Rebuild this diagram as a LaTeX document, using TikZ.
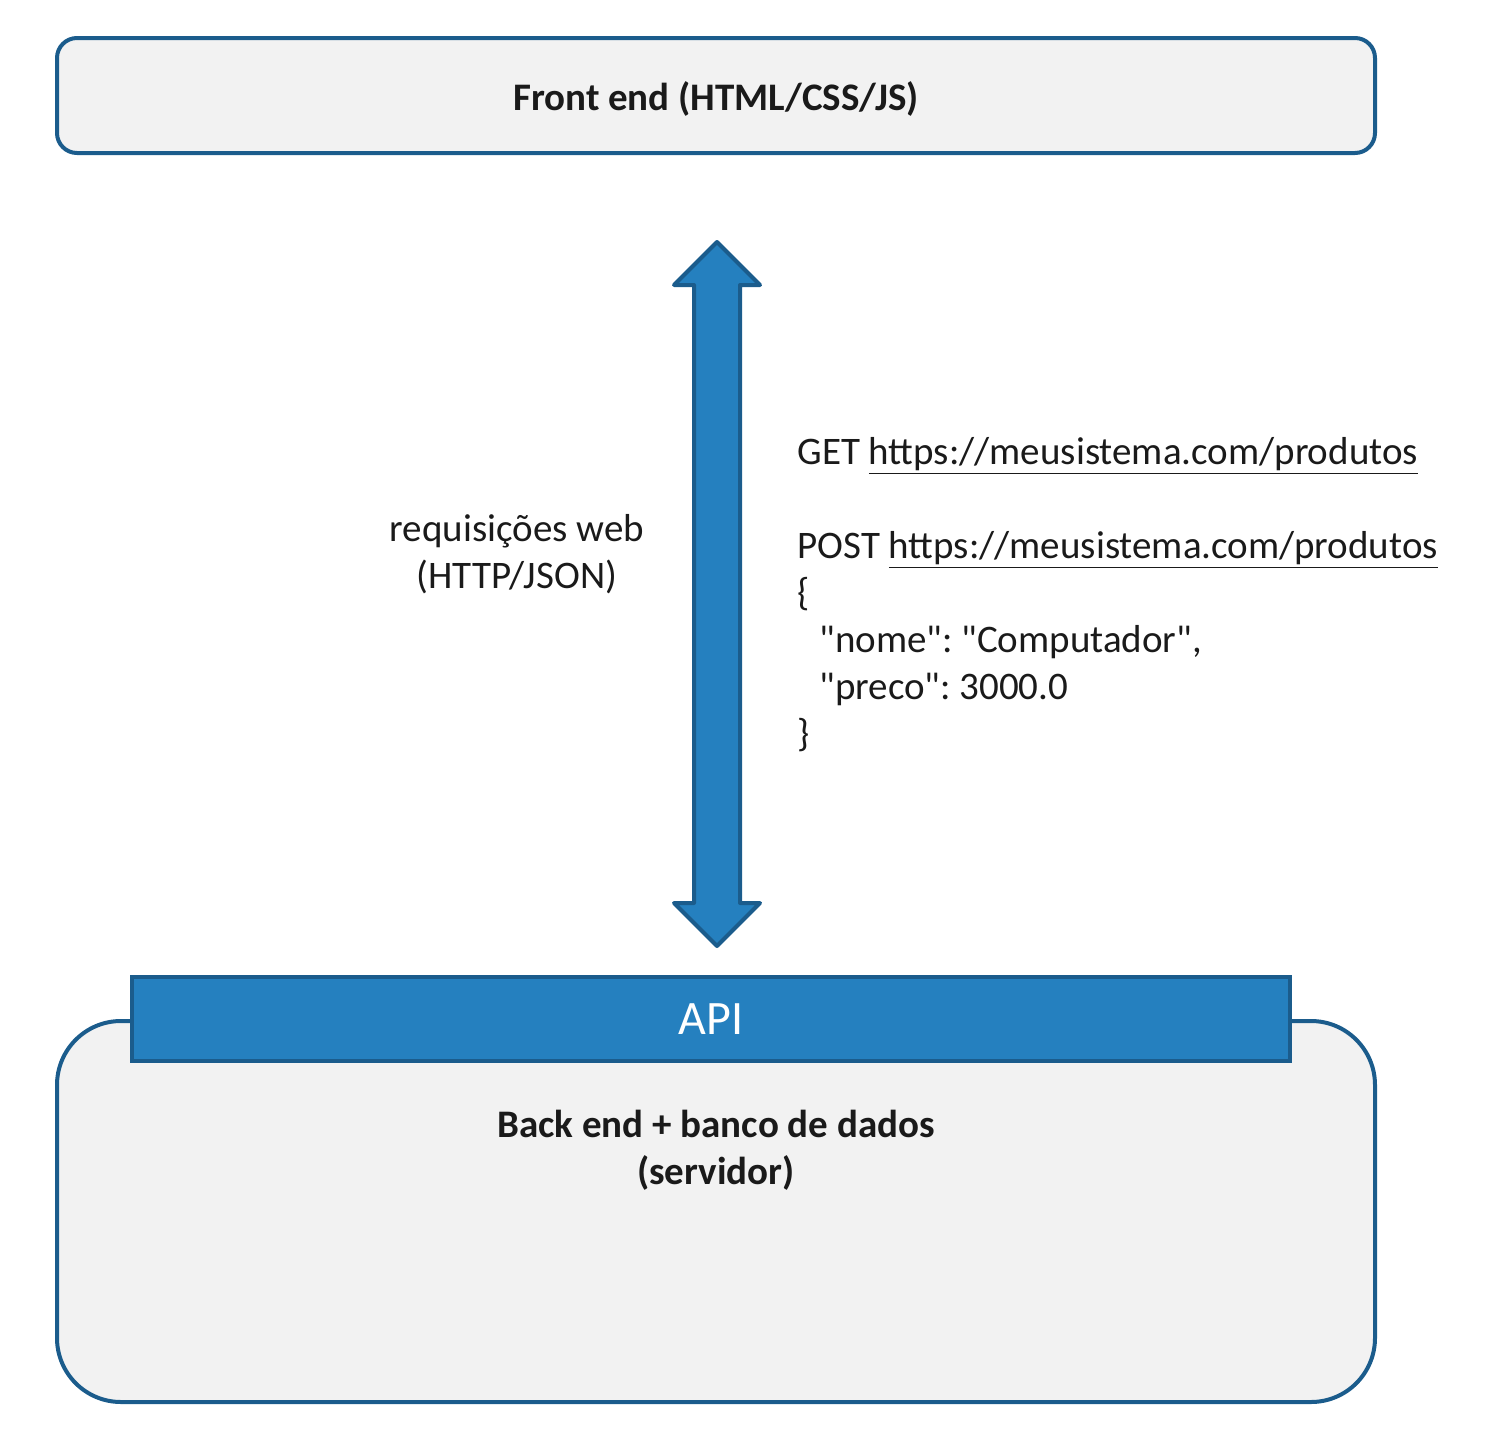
\documentclass[tikz,border=0pt]{standalone}
\usepackage{fontspec}
\setmainfont{Carlito}[Ligatures=TeXOff]
\definecolor{apiblue}{RGB}{37,128,191}
\definecolor{edgeblue}{RGB}{27,92,140}
\definecolor{boxfill}{RGB}{242,242,242}
\definecolor{txt}{RGB}{26,26,26}
\frenchspacing
\begin{document}
\begin{tikzpicture}[x=0.5pt,y=-0.5pt,
  panel/.style={draw=edgeblue, fill=boxfill, line width=2pt},
  apibar/.style={draw=edgeblue, fill=apiblue, line width=2pt},
  boldlabel/.style={text=txt, font=\bfseries\fontsize{19.5}{23.5}\selectfont, align=center},
  plainlabel/.style={text=txt, font=\fontsize{19.5}{23.5}\selectfont},
]
\useasboundingbox (0,0) rectangle (1500,1440);

% front end box
\node[panel, rounded corners=10pt, minimum width=659pt, minimum height=57.5pt, inner sep=0pt] (front) at (716,95.5) {};
\node[boldlabel] (fronttxt) at (716,99) {Front end (HTML/CSS/JS)};

% back end box
\node[panel, rounded corners=32pt, minimum width=659pt, minimum height=190.5pt, inner sep=0pt] (back) at (716,1211.5) {};
\node[boldlabel] (backtxt) at (716,1150) {Back end + banco de dados\\(servidor)};

% API bar
\node[apibar, minimum width=579pt, minimum height=42pt, inner sep=0pt,
      text=white, font=\fontsize{24}{28}\selectfont] (api) at (711,1019) {API};

% double arrow
\coordinate (ttip) at (717,242);
\coordinate (btip) at (717,946);
\draw[apibar, line join=round]
  (ttip) -- (760,285) -- (740,285) -- (740,903) -- (760,903) -- (btip)
  -- (674,903) -- (694,903) -- (694,285) -- (674,285) -- cycle;

% left label
\node[plainlabel, align=center] (req) at (517,554) {requisições web\\(HTTP/JSON)};

% right text
\node[plainlabel, align=left, anchor=north west, inner sep=0pt] (code) at (797,437)
{GET \underline{https://meusistema.com/produtos}\\[23.5pt]
POST \underline{https://meusistema.com/produtos}\\
\{\\
\hspace*{11pt}"nome": "Computador",\\
\hspace*{11pt}"preco": 3000.0\\
\}};
\end{tikzpicture}
\end{document}
